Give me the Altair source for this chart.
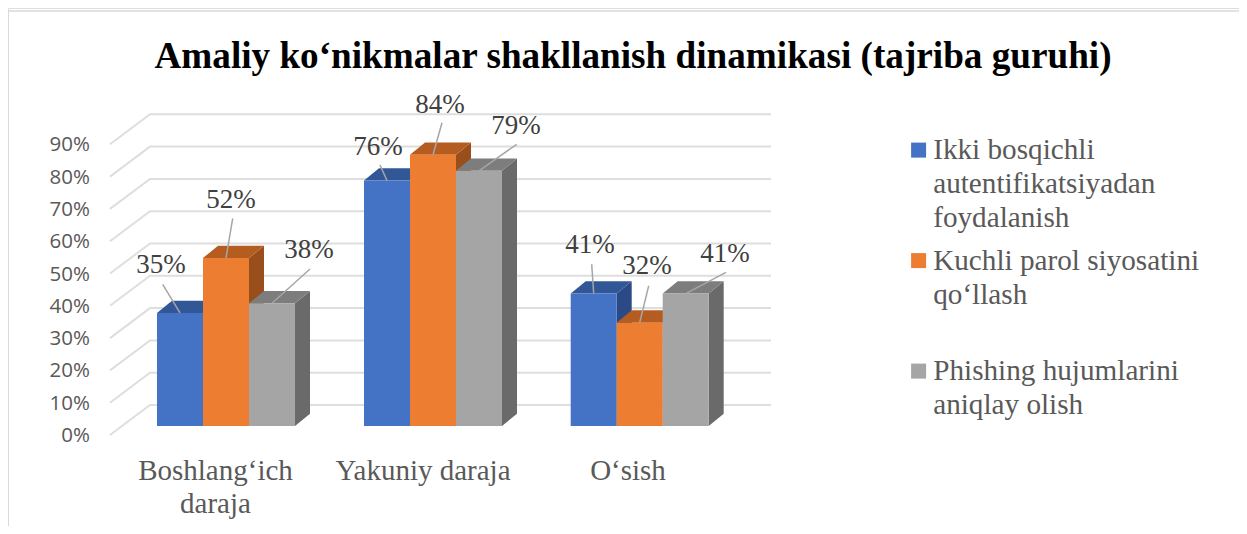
import altair as alt
import pandas as pd

# ---- data
categories = ["Boshlang‘ich\ndaraja", "Yakuniy daraja", "O‘sish"]
series = [
    "Ikki bosqichli\nautentifikatsiyadan\nfoydalanish",
    "Kuchli parol siyosatini\nqo‘llash",
    "Phishing hujumlarini\naniqlay olish",
]
two_factor = [35, 76, 41]
strong_password = [52, 84, 32]
phishing = [38, 79, 41]
values = [two_factor, strong_password, phishing]
tick_values = [0, 10, 20, 30, 40, 50, 60, 70, 80, 90]

# ---- styles
front_colors = ["#4472C4", "#ED7D31", "#A5A5A5"]
top_colors = ["#325796", "#B55D20", "#7D7D7D"]
side_colors = ["#2B4A85", "#984F1B", "#6A6A6A"]
GRID = "#DEDEDE"
SERIF = "Liberation Serif"

# ---- layout: scales are in bar widths (x) and percent (y)
W, H = 1231, 518
BAR = 46.0
PCT = 3.23
X0, Y0 = 157.0, 426.0  # page position of the first bar's lower left corner


def ux(px):
    return (px - X0) / BAR


def uy(py):
    return (Y0 - py) / PCT


x_scale = alt.Scale(domain=[ux(8), ux(8 + W)], range=[0, W], nice=False, zero=False)
y_scale = alt.Scale(domain=[uy(8 + H), uy(8)], range=[H, 0], nice=False, zero=False)
X = lambda f: alt.X(f, type="quantitative", scale=x_scale, axis=None)
Y = lambda f: alt.Y(f, type="quantitative", scale=y_scale, axis=None, stack=None)

group_starts = [ux(157), ux(364), ux(570.7)]
DX, DY = 15 / BAR, 12.3 / PCT

# label anchor and leader end points, in page px
label_pos = [[(161, 273), (231, 208), (309, 258)],
             [(378, 155), (440, 113), (516, 134)],
             [(590, 253), (647, 274), (725, 262)]]
leader_end = [[(162.7, 284.3), (232.7, 218.3), (310, 269)],
              [(380, 165), (442, 122.7), (516.7, 144.3)],
              [(591.7, 264.3), (648.7, 285.7), (726, 272.3)]]

layers = []

# Frame
frame = pd.DataFrame({"a": [0]})
layers.append(alt.Chart(frame).mark_rule(color="#D9D9D9", strokeWidth=2).encode(
    x=alt.value(0), y=alt.value(3), y2=alt.value(H)))
layers.append(alt.Chart(frame).mark_rule(color="#D9D9D9", strokeWidth=1.5).encode(
    x=alt.value(0), x2=alt.value(W), y=alt.value(3)))

# Gridlines on floor side and back wall
grid_rows = []
for t in tick_values:
    grid_rows += [
        {"t": t, "x": ux(110), "y": t + uy(435)},
        {"t": t, "x": ux(150), "y": t + uy(405)},
        {"t": t, "x": ux(771), "y": t + uy(405)},
    ]
layers.append(alt.Chart(pd.DataFrame(grid_rows)).mark_line(color=GRID, strokeWidth=2).encode(
    x=X("x"), y=Y("y"), detail="t:N", order=alt.Order("x:Q")))

# y tick labels
layers.append(alt.Chart(pd.DataFrame({
    "x": [ux(90)] * len(tick_values),
    "y": [t + uy(436) for t in tick_values],
    "label": [f"{t}%" for t in tick_values]})).mark_text(
    font="Open Sans", fontSize=20.5, color="#595959", align="right", baseline="middle").encode(
    x=X("x"), y=Y("y"), text="label:N"))

# Bars: one set of side, top and front faces per series
for s, name in enumerate(series):
    side_rows, top_rows, front_rows = [], [], []
    for g, start in enumerate(group_starts):
        v = values[s][g]
        x0, x1 = start + s, start + s + 1
        side_rows += [{"g": g, "x": x1, "y": v, "y2": 0},
                      {"g": g, "x": x1 + DX, "y": v + DY, "y2": DY}]
        top_rows += [{"g": g, "x": x0, "y": v, "y2": v},
                     {"g": g, "x": x0 + DX, "y": v + DY, "y2": v},
                     {"g": g, "x": x1, "y": v + DY, "y2": v},
                     {"g": g, "x": x1 + DX, "y": v + DY, "y2": v + DY}]
        front_rows.append({"series": name, "x": x0, "x2": x1, "y": v, "y2": 0})
    layers.append(alt.Chart(pd.DataFrame(side_rows)).mark_area(color=side_colors[s]).encode(
        x=X("x"), y=Y("y"), y2="y2:Q", detail="g:N"))
    layers.append(alt.Chart(pd.DataFrame(top_rows)).mark_area(color=top_colors[s]).encode(
        x=X("x"), y=Y("y"), y2="y2:Q", detail="g:N"))
    layers.append(alt.Chart(pd.DataFrame(front_rows)).mark_rect().encode(
        x=X("x"), x2="x2:Q", y=Y("y"), y2="y2:Q",
        color=alt.Color("series:N", scale=alt.Scale(domain=series, range=front_colors), legend=alt.Legend(
            title=None, orient="none", legendX=896, legendY=127.5,
            symbolType="square", symbolSize=225, symbolStrokeWidth=0, symbolOpacity=1,
            labelFont=SERIF, labelFontSize=29.2, labelColor="#595959", labelLimit=400,
            labelExpr="split(datum.label, '\\n')", labelOffset=0,
            gridAlign="all", rowPadding=12.5, columns=1,
        ))))

# Leaders and value labels
leader_rows, text_rows = [], []
for s in range(3):
    for g, start in enumerate(group_starts):
        v = values[s][g]
        leader_rows += [{"id": f"{s}{g}", "o": 0, "x": start + s + 0.5, "y": v},
                        {"id": f"{s}{g}", "o": 1, "x": ux(leader_end[g][s][0]), "y": uy(leader_end[g][s][1])}]
        text_rows.append({"x": ux(label_pos[g][s][0]), "y": uy(label_pos[g][s][1]), "label": f"{v}%"})
layers.append(alt.Chart(pd.DataFrame(leader_rows)).mark_line(color="#A6A6A6", strokeWidth=1.5).encode(
    x=X("x"), y=Y("y"), detail="id:N", order="o:Q"))
layers.append(alt.Chart(pd.DataFrame(text_rows)).mark_text(
    font=SERIF, fontSize=27, color="#404040", align="center", baseline="alphabetic").encode(
    x=X("x"), y=Y("y"), text="label:N"))

# Category labels
layers.append(alt.Chart(pd.DataFrame({
    "x": [ux(215.5), ux(423), ux(628)], "y": [uy(480)] * 3, "label": categories})).mark_text(
    font=SERIF, fontSize=29, color="#595959", align="center", baseline="alphabetic",
    lineBreak="\n", lineHeight=33).encode(
    x=X("x"), y=Y("y"), text="label:N"))

chart = alt.layer(*layers).properties(
    width=W, height=H,
    padding=0,
    autosize=alt.AutoSizeParams(type="none"),
    title=alt.TitleParams(
        "Amaliy ko‘nikmalar shakllanish dinamikasi (tajriba guruhi)",
        font=SERIF, fontSize=37.2, fontWeight="bold", color="#000000",
        anchor="middle", baseline="alphabetic", dx=9.5, dy=97, offset=0),
).configure_view(stroke=None).configure(style={"guide-label": {"lineHeight": 34}})

chart.save("out.html", embed_options={"renderer": "svg", "actions": False})
